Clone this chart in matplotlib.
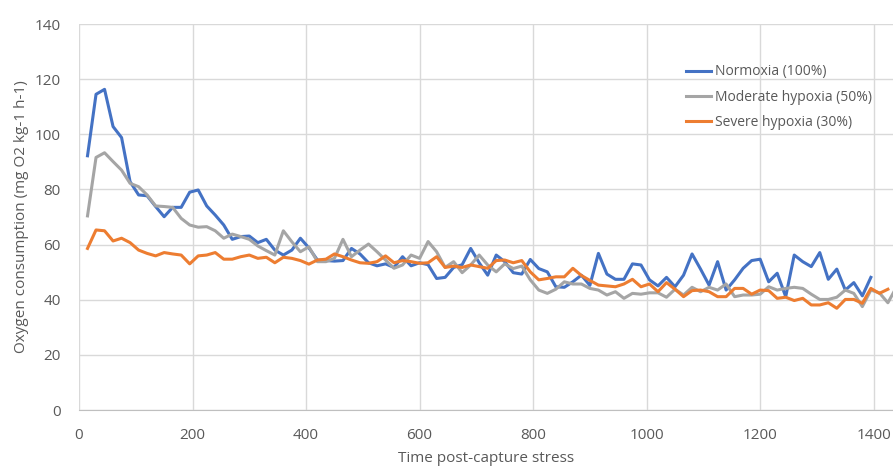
import matplotlib
matplotlib.use('Agg')
from matplotlib import pyplot as plt

# sampling times (minutes after capture), one reading every 15 min
time = [15, 30, 45, 60, 75, 90, 105, 120, 135, 150, 165, 180, 195, 210, 225, 240,
        255, 270, 285, 300, 315, 330, 345, 360, 375, 390, 405, 420, 435, 450, 465, 480,
        495, 510, 525, 540, 555, 570, 585, 600, 615, 630, 645, 660, 675, 690, 705, 720,
        735, 750, 765, 780, 795, 810, 825, 840, 855, 870, 885, 900, 915, 930, 945, 960,
        975, 990, 1005, 1020, 1035, 1050, 1065, 1080, 1095, 1110, 1125, 1140, 1155, 1170,
        1185, 1200, 1215, 1230, 1245, 1260, 1275, 1290, 1305, 1320, 1335, 1350, 1365,
        1380, 1395, 1410, 1425, 1440]

normoxia = [92.2, 114.5, 116.3, 102.8, 98.8, 82.8, 78.0, 77.7, 73.8, 70.1,
            73.5, 73.5, 79.0, 79.8, 74.0, 70.7, 67.1, 61.9, 62.9, 63.1,
            60.7, 61.9, 58.0, 56.2, 58.0, 62.3, 58.8, 54.4, 54.2, 54.0,
            54.2, 58.6, 56.6, 53.4, 52.3, 53.0, 51.7, 55.6, 52.3, 53.4,
            52.7, 47.7, 48.1, 51.7, 52.7, 58.6, 53.4, 48.9, 56.2, 53.8,
            49.8, 49.3, 54.6, 51.3, 50.1, 44.7, 44.5, 46.5, 48.9, 45.2,
            56.8, 49.3, 47.4, 47.4, 53.0, 52.6, 47.2, 45.0, 48.1, 44.7,
            48.9, 56.6, 51.1, 45.3, 53.8, 43.5, 47.2, 51.4, 54.2, 54.7,
            46.5, 49.6, 41.1, 56.2, 53.8, 52.0, 57.1, 47.4, 51.1, 43.5,
            46.2, 41.4, 48.1]

moderate = [70.4, 91.6, 93.3, 90.1, 87.0, 82.2, 81.0, 78.0, 74.0, 73.8,
            73.5, 69.5, 67.1, 66.3, 66.5, 65.0, 62.3, 63.8, 62.9, 61.9,
            59.5, 57.8, 56.2, 65.0, 61.0, 57.4, 59.2, 53.8, 53.8, 55.0,
            61.9, 55.6, 58.0, 60.2, 57.4, 54.4, 51.4, 52.6, 56.2, 55.0,
            61.1, 57.4, 51.7, 53.8, 49.8, 52.6, 56.2, 52.6, 50.1, 53.0,
            51.3, 52.2, 47.2, 43.5, 42.3, 43.8, 46.5, 45.7, 45.7, 44.1,
            43.5, 41.7, 42.9, 40.5, 42.3, 42.0, 42.5, 42.5, 40.9, 43.8,
            41.7, 44.5, 42.9, 44.5, 43.5, 45.7, 41.1, 41.7, 41.7, 42.0,
            44.7, 43.5, 44.1, 44.5, 44.1, 42.0, 40.1, 40.1, 40.9, 43.5,
            42.3, 37.5, 43.5, 42.5, 38.9, 44.5]

severe = [58.6, 65.3, 65.0, 61.3, 62.3, 60.7, 58.0, 56.8, 55.9, 57.1,
          56.6, 56.2, 53.0, 55.9, 56.2, 57.1, 54.7, 54.7, 55.6, 56.2,
          55.0, 55.4, 53.4, 55.4, 55.0, 54.2, 52.9, 54.4, 54.7, 56.6,
          55.6, 54.4, 53.4, 53.2, 53.8, 55.9, 53.4, 54.2, 53.8, 53.2,
          53.4, 55.6, 51.7, 52.2, 51.7, 52.6, 52.0, 51.4, 54.2, 54.4,
          53.4, 54.2, 50.1, 47.2, 47.7, 48.3, 48.3, 51.4, 48.8, 47.0,
          45.3, 45.0, 44.7, 45.7, 47.4, 44.7, 45.7, 42.9, 46.2, 43.8,
          41.1, 43.3, 43.5, 42.9, 41.1, 41.1, 44.1, 44.1, 42.0, 43.5,
          43.3, 40.5, 40.9, 39.7, 40.5, 38.1, 38.1, 38.9, 36.9, 40.1,
          40.1, 38.7, 44.1, 42.3, 43.8]

labels = ['Normoxia (100%)', 'Moderate hypoxia (50%)', 'Severe hypoxia (30%)']
colors = ['#4472C4', '#A5A5A5', '#ED7D31']

plt.rcParams['font.family'] = ['Open Sans', 'DejaVu Sans']
textcol = '#595959'

fig = plt.figure(figsize=(8.93, 4.66), dpi=100)
ax = fig.add_axes([79 / 893, 56 / 466, 1 - 79 / 893, 386 / 466])

# series are drawn so that orange ends on top, like the original
ax.plot(time[:len(normoxia)], normoxia, color=colors[0], lw=2.2, label=labels[0])
ax.plot(time[:len(moderate)], moderate, color=colors[1], lw=2.2, label=labels[1])
ax.plot(time[:len(severe)], severe, color=colors[2], lw=2.2, label=labels[2])

ax.set_xlim(0, 1434)
ax.set_ylim(0, 140)
ax.set_xticks(range(0, 1401, 200))
ax.set_yticks(range(0, 141, 20))
ax.grid(True, color='#D9D9D9', lw=1)
ax.set_axisbelow(True)
for s in ['top', 'right', 'left']:
    ax.spines[s].set_visible(False)
ax.spines['bottom'].set_color('#BFBFBF')
ax.tick_params(length=0, labelsize=11, labelcolor=textcol)
ax.tick_params(axis='y', pad=13)
ax.tick_params(axis='x', pad=13)

ax.set_xlabel('Time post-capture stress', fontsize=11, color=textcol, labelpad=6)
ax.set_ylabel('Oxygen consumption (mg O2 kg-1 h-1)', fontsize=11, color=textcol, labelpad=4)

ax.legend(loc='upper left', bbox_to_anchor=(673 / 893, 1 - 52 / 466),
          bbox_transform=fig.transFigure, frameon=False, fontsize=10,
          handlelength=1.8, labelspacing=0.75, handletextpad=0.3,
          labelcolor=textcol)

fig.savefig('out.png', dpi=100)
